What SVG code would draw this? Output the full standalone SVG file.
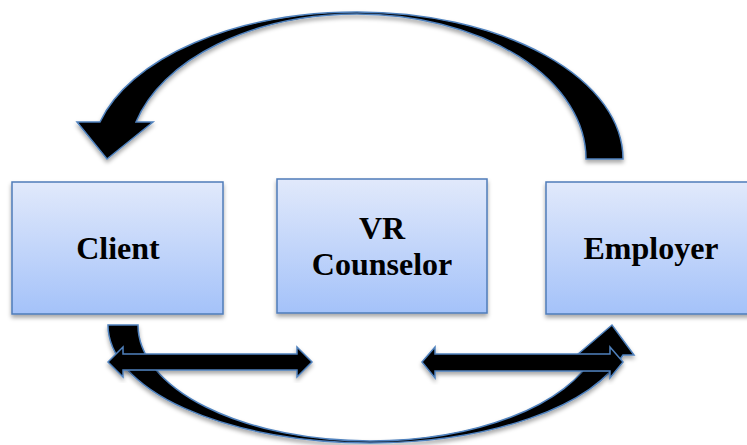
<svg xmlns="http://www.w3.org/2000/svg" width="747" height="445" viewBox="0 0 747 445">
<defs>
<linearGradient id="boxGrad" x1="0" y1="0" x2="0" y2="1">
<stop offset="0" stop-color="#e1e9fb"/>
<stop offset="1" stop-color="#a4c2f9"/>
</linearGradient>
<filter id="shadow" x="-10%" y="-10%" width="120%" height="130%">
<feDropShadow dx="0" dy="3" stdDeviation="2" flood-color="#000" flood-opacity="0.35"/>
</filter>
<style>
.box { fill: url(#boxGrad); stroke: #4f7cb9; stroke-width: 1.5; filter: url(#shadow); }
.arrow { fill: #000; stroke: #4f81bd; stroke-width: 1.5; stroke-linejoin: miter; filter: url(#shadow); }
.label { font-family: "Liberation Serif", "Times New Roman", serif; font-weight: bold; font-size: 32px; fill: #000; text-anchor: middle; }
</style>
</defs>
<rect width="747" height="445" fill="#fff"/>
<g id="client">
<rect class="box" x="12" y="182" width="211" height="132"/>
<text class="label" x="118" y="259">Client</text>
</g>
<g id="vr-counselor">
<rect class="box" x="277" y="179" width="210" height="134"/>
<text class="label" x="382" y="239">VR</text>
<text class="label" x="382" y="275">Counselor</text>
</g>
<g id="employer">
<rect class="box" x="546" y="182" width="211" height="132"/>
<text class="label" x="651" y="259">Employer</text>
</g>
<g id="connectors">
<path class="arrow" d="M 623 159 A 266 147 0 0 0 357 12 A 266 147 0 0 0 100 122 L 77 122 L 107 159 L 153 122 L 136 122 A 229 145 0 0 1 357 14 A 229 145 0 0 1 586 159 Z"/>
<path class="arrow" d="M 108 325 L 138 325 A 232 116 0 0 0 370 441 A 232 116 0 0 0 594 355 L 577 355 L 612 325 L 634 355 L 623 355 A 262 118 0 0 1 370 443 A 262 118 0 0 1 108 325 Z"/>
<path class="arrow" d="M 108 362 L 123 347 L 123 354 L 297 354 L 297 347 L 312 362 L 297 377 L 297 370 L 123 370 L 123 377 Z"/>
<path class="arrow" d="M 422 362 L 435 347 L 435 354 L 610 354 L 610 347 L 623 362 L 610 378 L 610 371 L 435 371 L 435 378 Z"/>
</g>
</svg>
